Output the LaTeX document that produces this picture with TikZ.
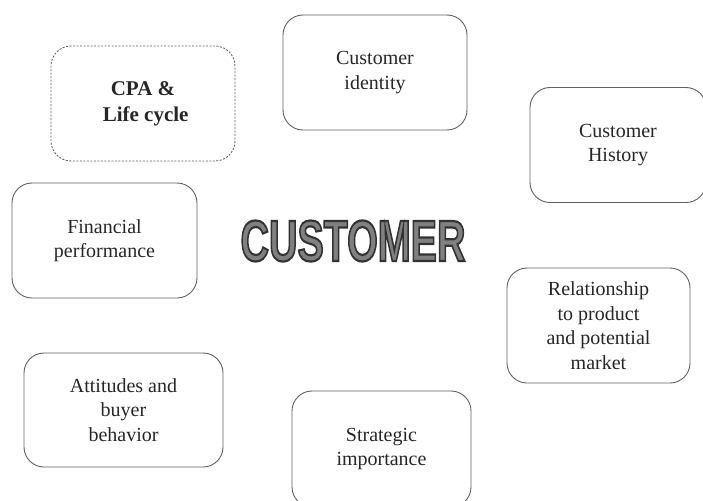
\documentclass[tikz,border=0pt]{standalone}
\usepackage{fontspec}
\setmainfont{Liberation Serif}
\newfontfamily\wordart{Liberation Sans}
\begin{document}
\begin{tikzpicture}[x=1pt,y=-1pt,
  box/.style={draw=black!62, line width=0.9pt, rounded corners=20pt, align=center,
    text=black!85, font=\fontsize{20}{24.5}\selectfont, inner sep=0pt},
  dbox/.style={box, dash pattern=on 2pt off 1.5pt},
  art/.style={font=\wordart\bfseries\fontsize{58}{58}\selectfont, inner sep=0pt}]
\useasboundingbox (0,0) rectangle (703,500);
\clip (0,0) rectangle (703,500);
\node[dbox, minimum width=184pt, minimum height=115pt,
  font=\bfseries\fontsize{21}{26}\selectfont] (cpa) at (143,103.5) {CPA \&\\ \ Life cycle};
\node[box, minimum width=184pt, minimum height=115pt] (ident) at (375,72.5) {Customer\\identity};
\node[box, minimum width=176pt, minimum height=115pt] (hist) at (618,145) {Customer\\History};
\node[box, minimum width=185pt, minimum height=115pt] (fin) at (104.5,240.5) {Financial\\performance};
\node[box, minimum width=183pt, minimum height=115pt] (rel) at (598.5,325.5) {Relationship\\to product\\and potential\\market};
\node[box, minimum width=199pt, minimum height=114pt] (att) at (123.5,410) {Attitudes and\\buyer\\behavior};
\node[box, minimum width=179pt, minimum height=116pt] (str) at (381.5,449) {Strategic\\importance};
% word art
\node[art, text=black!50] (cust) at (353,241) {\scalebox{0.68}[1]{\special{pdf:literal 2 Tr 2.2 w 0.2 G}CUSTOMER\special{pdf:literal 0 Tr}}};
\end{tikzpicture}
\end{document}
